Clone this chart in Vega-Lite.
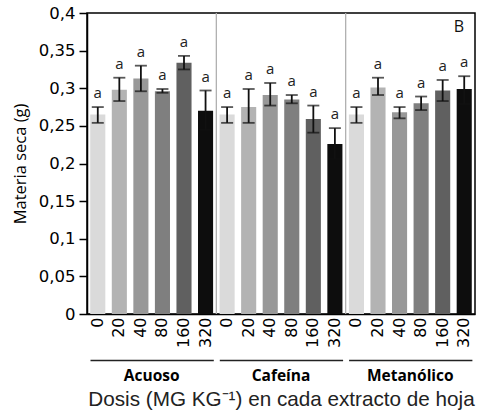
{
  "$schema": "https://vega.github.io/schema/vega-lite/v6.json",
  "width": 388,
  "height": 301,
  "padding": {"left": 12, "top": 5, "right": 5, "bottom": 5},
  "background": "white",
  "config": {
    "view": {"stroke": "black", "strokeWidth": 1.5},
    "font": "Open Sans",
    "axis": {"grid": false, "domainColor": "black", "tickColor": "black", "labelColor": "black", "titleColor": "black"},
    "axisY": {"labelOverlap": false, "labelFont": "DejaVu Sans", "labelFontSize": 16.5, "tickSize": 8, "tickWidth": 1.5, "domainWidth": 1.5, "labelPadding": 4, "titleFont": "Open Sans", "titleFontSize": 16.5, "titleFontWeight": "normal", "titlePadding": 10}
  },
  "datasets": {
    "bars": [
      {"extracto": "Acuoso", "dosis": "0", "key": "Acuoso 0", "media": 0.265, "lo": 0.254, "hi": 0.275, "letra": "a"},
      {"extracto": "Acuoso", "dosis": "20", "key": "Acuoso 20", "media": 0.298, "lo": 0.283, "hi": 0.314, "letra": "a"},
      {"extracto": "Acuoso", "dosis": "40", "key": "Acuoso 40", "media": 0.313, "lo": 0.296, "hi": 0.330, "letra": "a"},
      {"extracto": "Acuoso", "dosis": "80", "key": "Acuoso 80", "media": 0.296, "lo": 0.294, "hi": 0.299, "letra": "a"},
      {"extracto": "Acuoso", "dosis": "160", "key": "Acuoso 160", "media": 0.334, "lo": 0.325, "hi": 0.343, "letra": "a"},
      {"extracto": "Acuoso", "dosis": "320", "key": "Acuoso 320", "media": 0.270, "lo": 0.245, "hi": 0.297, "letra": "a"},
      {"extracto": "Cafeína", "dosis": "0", "key": "Cafeína 0", "media": 0.265, "lo": 0.254, "hi": 0.275, "letra": "a"},
      {"extracto": "Cafeína", "dosis": "20", "key": "Cafeína 20", "media": 0.275, "lo": 0.254, "hi": 0.299, "letra": "a"},
      {"extracto": "Cafeína", "dosis": "40", "key": "Cafeína 40", "media": 0.291, "lo": 0.277, "hi": 0.307, "letra": "a"},
      {"extracto": "Cafeína", "dosis": "80", "key": "Cafeína 80", "media": 0.285, "lo": 0.280, "hi": 0.291, "letra": "a"},
      {"extracto": "Cafeína", "dosis": "160", "key": "Cafeína 160", "media": 0.259, "lo": 0.241, "hi": 0.277, "letra": "a"},
      {"extracto": "Cafeína", "dosis": "320", "key": "Cafeína 320", "media": 0.226, "lo": 0.206, "hi": 0.247, "letra": "a"},
      {"extracto": "Metanólico", "dosis": "0", "key": "Metanólico 0", "media": 0.265, "lo": 0.254, "hi": 0.275, "letra": "a"},
      {"extracto": "Metanólico", "dosis": "20", "key": "Metanólico 20", "media": 0.301, "lo": 0.291, "hi": 0.314, "letra": "a"},
      {"extracto": "Metanólico", "dosis": "40", "key": "Metanólico 40", "media": 0.268, "lo": 0.260, "hi": 0.275, "letra": "a"},
      {"extracto": "Metanólico", "dosis": "80", "key": "Metanólico 80", "media": 0.280, "lo": 0.271, "hi": 0.289, "letra": "a"},
      {"extracto": "Metanólico", "dosis": "160", "key": "Metanólico 160", "media": 0.297, "lo": 0.283, "hi": 0.311, "letra": "a"},
      {"extracto": "Metanólico", "dosis": "320", "key": "Metanólico 320", "media": 0.299, "lo": 0.279, "hi": 0.316, "letra": "a"}
    ],
    "seps": [{"extracto": "Cafeína"}, {"extracto": "Metanólico"}],
    "tag": [{"panel": "B", "key": "Metanólico 320", "pos": 0.381}]
  },
  "layer": [
    {
      "data": {"name": "bars"},
      "encoding": {
        "x": {
          "field": "key", "type": "nominal",
          "scale": {"domain": ["Acuoso 0","Acuoso 20","Acuoso 40","Acuoso 80","Acuoso 160","Acuoso 320","Cafeína 0","Cafeína 20","Cafeína 40","Cafeína 80","Cafeína 160","Cafeína 320","Metanólico 0","Metanólico 20","Metanólico 40","Metanólico 80","Metanólico 160","Metanólico 320"], "paddingInner": 0, "paddingOuter": 0},
          "axis": {"orient": "bottom", "title": null, "labelAngle": -90, "labelExpr": "split(datum.value, ' ')[1]", "ticks": false, "labelPadding": 3, "labelFont": "DejaVu Sans", "labelFontSize": 16, "domainWidth": 1.5}
        }
      },
      "layer": [
        {
          "mark": {"type": "bar", "width": {"band": 0.7}},
          "encoding": {
            "y": {"field": "media", "type": "quantitative", "scale": {"domain": [0, 0.4]},
              "axis": {"title": "Materia seca (g)", "values": [0,0.05,0.1,0.15,0.2,0.25,0.3,0.35,0.4], "labelExpr": "replace(format(datum.value, '.2~f'), '.', ',')"}},
            "color": {"field": "dosis", "type": "nominal", "scale": {"domain": ["0","20","40","80","160","320"], "range": ["#dadada","#b3b3b3","#989898","#7f7f7f","#606060","#0d0d0d"]}, "legend": null}
          }
        },
        {
          "mark": {"type": "rule", "color": "#111", "strokeWidth": 1.8},
          "encoding": {"y": {"field": "lo", "type": "quantitative", "axis": {"title": "Materia seca (g)", "values": [0,0.05,0.1,0.15,0.2,0.25,0.3,0.35,0.4], "labelExpr": "replace(format(datum.value, '.2~f'), '.', ',')"}}, "y2": {"field": "hi"}}
        },
        {
          "mark": {"type": "tick", "color": "#111", "size": 12, "thickness": 1.8},
          "encoding": {"y": {"field": "lo", "type": "quantitative", "axis": {"title": "Materia seca (g)", "values": [0,0.05,0.1,0.15,0.2,0.25,0.3,0.35,0.4], "labelExpr": "replace(format(datum.value, '.2~f'), '.', ',')"}}}
        },
        {
          "mark": {"type": "tick", "color": "#111", "size": 12, "thickness": 1.8},
          "encoding": {"y": {"field": "hi", "type": "quantitative", "axis": {"title": "Materia seca (g)", "values": [0,0.05,0.1,0.15,0.2,0.25,0.3,0.35,0.4], "labelExpr": "replace(format(datum.value, '.2~f'), '.', ',')"}}}
        },
        {
          "mark": {"type": "text", "font": "Open Sans", "fontSize": 15, "color": "#222", "baseline": "alphabetic", "dy": -9},
          "encoding": {"y": {"field": "hi", "type": "quantitative", "axis": {"title": "Materia seca (g)", "values": [0,0.05,0.1,0.15,0.2,0.25,0.3,0.35,0.4], "labelExpr": "replace(format(datum.value, '.2~f'), '.', ',')"}}, "text": {"field": "letra"}}
        },
        {
          "data": {"name": "tag"},
          "mark": {"type": "text", "font": "Open Sans", "fontSize": 16, "color": "#111", "baseline": "middle", "align": "center"},
          "encoding": {"x": {"field": "key", "type": "nominal", "bandPosition": 0.25}, "y": {"field": "pos", "type": "quantitative", "axis": {"title": "Materia seca (g)", "values": [0,0.05,0.1,0.15,0.2,0.25,0.3,0.35,0.4], "labelExpr": "replace(format(datum.value, '.2~f'), '.', ',')"}}, "text": {"field": "panel"}}
        }
      ]
    },
    {
      "data": {"name": "seps"},
      "mark": {"type": "rule", "color": "#b0b0b0", "strokeWidth": 1.3},
      "encoding": {
        "x": {
          "field": "extracto", "type": "nominal", "bandPosition": 0,
          "scale": {"domain": ["Acuoso", "Cafeína", "Metanólico"], "paddingInner": 0, "paddingOuter": 0},
          "axis": {"orient": "bottom", "offset": 46, "ticks": false, "domainDash": [123.3, 6], "domainDashOffset": 126.3, "domainColor": "#222", "domainWidth": 1.5, "labelFont": "Open Sans", "labelFontWeight": "bold", "labelFontSize": 15.5, "labelPadding": 8, "labelAngle": 0, "title": "Dosis (MG KG⁻¹) en cada extracto de hoja", "titleFont": "Liberation Sans", "titleFontSize": 20.7, "titleFontWeight": "normal", "titleColor": "#222", "titlePadding": 6}
        }
      }
    }
  ],
  "resolve": {"scale": {"x": "independent"}, "axis": {"x": "independent"}}
}
